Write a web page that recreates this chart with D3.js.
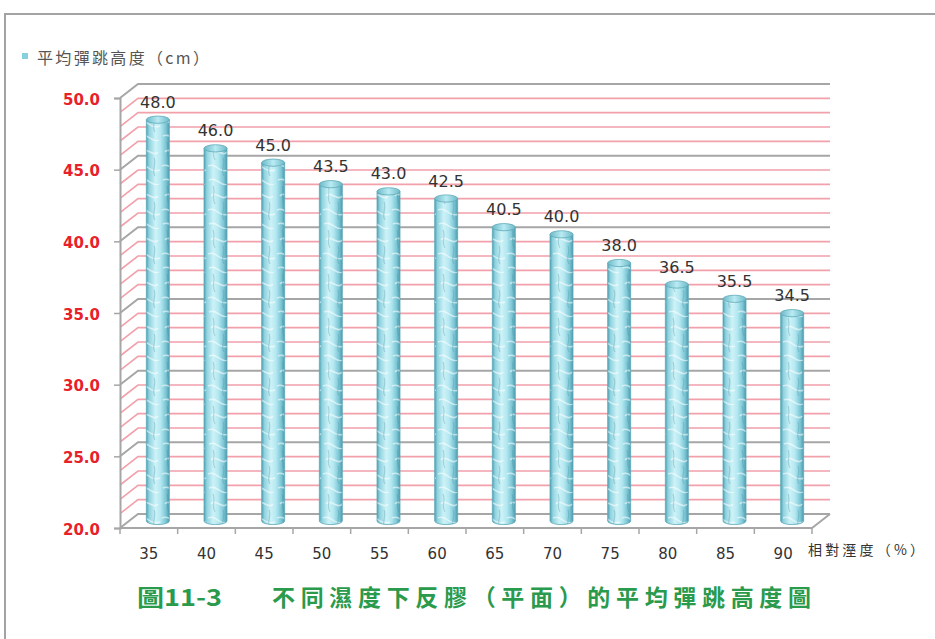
<!DOCTYPE html>
<html>
<head>
<meta charset="utf-8">
<script src="https://cdn.jsdelivr.net/npm/d3@7"></script>
<style>
  html, body { margin: 0; padding: 0; background: #fff; }
  svg { display: block; }
</style>
</head>
<body>
<svg id="chart" width="935" height="639"></svg>
<script>
// Relative humidity (%) and average bounce height (cm)
const categories = ["35", "40", "45", "50", "55", "60", "65", "70", "75", "80", "85", "90"];
const heights = [48.0, 46.0, 45.0, 43.5, 43.0, 42.5, 40.5, 40.0, 38.0, 36.5, 35.5, 34.5];
const yTicks = [20, 25, 30, 35, 40, 45, 50];
const seriesName = "平均彈跳高度(cm)";
const xTitle = "相對溼度(%)";
const figNumber = "圖11-3";
const figTitle = "不同濕度下反膠(平面)的平均彈跳高度圖";

const svg = d3.select("#chart");
const defs = svg.append("defs");

// Cylinder body shading
const bodyGrad = defs.append("linearGradient").attr("id", "cyl").attr("x1", 0).attr("x2", 1).attr("y1", 0).attr("y2", 0);
[[0, "#4f9fb0"], [0.12, "#8fd2df"], [0.4, "#cdf2f7"], [0.62, "#b4e8f1"], [0.85, "#7cc6d5"], [1, "#4d9aab"]]
  .forEach(([o, c]) => bodyGrad.append("stop").attr("offset", o).attr("stop-color", c));

// Watery texture laid over the bars
const tex = defs.append("pattern").attr("id", "water").attr("patternUnits", "userSpaceOnUse")
  .attr("width", 23).attr("height", 44);
tex.append("path").attr("d", "M2,4 C10,0 14,12 21,8 M4,20 C8,14 16,26 20,20 M1,34 C9,30 12,42 22,38")
  .attr("fill", "none").attr("stroke", "#ffffff").attr("stroke-opacity", 0.55).attr("stroke-width", 1.4);
tex.append("path").attr("d", "M6,10 C9,16 4,22 8,28 M16,26 C19,32 13,38 17,44")
  .attr("fill", "none").attr("stroke", "#3f8fa0").attr("stroke-opacity", 0.3).attr("stroke-width", 1.2);

const capGrad = defs.append("linearGradient").attr("id", "cylTop").attr("x1", 0).attr("x2", 1);
[[0, "#6db9c8"], [0.5, "#b9ebf3"], [1, "#6db9c8"]]
  .forEach(([o, c]) => capGrad.append("stop").attr("offset", o).attr("stop-color", c));

// Outer frame
svg.append("rect").attr("x", 5).attr("y", 14).attr("width", 960).attr("height", 660)
  .attr("fill", "none").attr("stroke", "#a3a3a3").attr("stroke-width", 2);

// Scales (front plane) and 3D depth offset
const x = d3.scaleBand().domain(categories).range([120, 812]).paddingInner(0).paddingOuter(0);
const y = d3.scaleLinear().domain([20, 50]).range([528, 98]);
const dx = 18, dy = -14;
const x0 = x.range()[0], x1 = x.range()[1];

// Gridlines across side wall and back wall
const gridVals = y.ticks(30);
const grid = svg.append("g").attr("fill", "none");
gridVals.forEach(v => {
  const major = yTicks.includes(v);
  grid.append("path")
    .attr("d", `M${x0},${y(v)} L${x0 + dx},${y(v) + dy} L${x1 + dx},${y(v) + dy}`)
    .attr("stroke", major ? "#a6a6a6" : "#f2a0aa")
    .attr("stroke-width", major ? 2 : 1.6);
});

// Floor edges
svg.append("path")
  .attr("d", `M${x0},${y(20)} L${x1},${y(20)} L${x1 + dx},${y(20) + dy}`)
  .attr("fill", "none").attr("stroke", "#a6a6a6").attr("stroke-width", 2);

// Value axis
const yAxis = svg.append("g").attr("transform", `translate(${x0},0)`)
  .call(d3.axisLeft(y).tickValues(yTicks).tickFormat(d3.format(".1f")).tickSize(6).tickPadding(14));
yAxis.select(".domain").attr("stroke", "#a6a6a6").attr("stroke-width", 2);
yAxis.selectAll(".tick line").attr("stroke", "#a6a6a6").attr("stroke-width", 1.5);
yAxis.selectAll(".tick text")
  .attr("fill", "#e8202a").attr("font-family", "DejaVu Sans, sans-serif")
  .attr("font-weight", "bold").attr("font-size", 15).attr("dy", "0.42em");

// Category axis: boundary ticks and labels
const bounds = categories.map(c => x(c)).concat([x1]);
svg.append("g").selectAll("line").data(bounds).join("line")
  .attr("x1", d => d).attr("x2", d => d)
  .attr("y1", y(20)).attr("y2", y(20) + 6)
  .attr("stroke", "#a6a6a6").attr("stroke-width", 1.5);
const xAxis = svg.append("g").attr("transform", `translate(0,${y(20)})`)
  .call(d3.axisBottom(x).tickSize(0).tickPadding(20));
xAxis.select(".domain").remove();
xAxis.selectAll(".tick text")
  .attr("fill", "#333").attr("font-family", "DejaVu Sans, sans-serif").attr("font-size", 15);

// Cylinders
const rx = 11.5, ry = 3.6;
const bars = svg.append("g").selectAll("g").data(categories.map((c, i) => ({ c, v: heights[i] }))).join("g");
const cx = d => x(d.c) + x.bandwidth() / 2 + dx / 2;
const yb = y(20) + dy / 2;
const yt = d => y(d.v) + dy / 2;
const cylPath = d =>
  `M${cx(d) - rx},${yt(d)} L${cx(d) - rx},${yb} A${rx},${ry} 0 0 0 ${cx(d) + rx},${yb} L${cx(d) + rx},${yt(d)} Z`;
bars.append("path").attr("d", cylPath).attr("fill", "url(#cyl)");
bars.append("path").attr("d", cylPath).attr("fill", "url(#water)");
bars.append("path").attr("d", cylPath).attr("fill", "none").attr("stroke", "#5ea9b8").attr("stroke-width", 0.8);
bars.append("ellipse")
  .attr("cx", cx).attr("cy", yt).attr("rx", rx).attr("ry", ry)
  .attr("fill", "url(#cylTop)").attr("stroke", "#5ea9b8").attr("stroke-width", 0.8);

// Value labels
bars.append("text")
  .attr("x", cx).attr("y", d => yt(d) - 12)
  .attr("text-anchor", "middle")
  .attr("font-family", "DejaVu Sans, sans-serif").attr("font-size", 16).attr("fill", "#333")
  .text(d => d3.format(".1f")(d.v));

// Legend
svg.append("rect").attr("x", 22).attr("y", 53).attr("width", 6).attr("height", 6).attr("fill", "#86d0de");
svg.append("text").attr("x", 37).attr("y", 64)
  .attr("font-family", "Noto Sans CJK TC, sans-serif").attr("font-size", 16).attr("fill", "#555")
  .attr("textLength", 172).attr("lengthAdjust", "spacing")
  .text(seriesName.replace("(", "（").replace(")", "）"));

// Category axis title
svg.append("text").attr("x", 808).attr("y", 555)
  .attr("font-family", "Noto Sans CJK TC, sans-serif").attr("font-size", 14).attr("fill", "#333")
  .attr("textLength", 116).attr("lengthAdjust", "spacing")
  .text(xTitle.replace("(", "（").replace(")", "）"));

// Figure caption
const cap = svg.append("g")
  .attr("font-family", "Noto Sans CJK TC, sans-serif").attr("font-weight", "bold")
  .attr("font-size", 23).attr("fill", "#2a9a4c");
cap.append("text").attr("x", 137).attr("y", 606)
  .attr("textLength", 85).attr("lengthAdjust", "spacingAndGlyphs").text(figNumber);
cap.append("text").attr("x", 272).attr("y", 606)
  .attr("textLength", 539).attr("lengthAdjust", "spacing")
  .text(figTitle.replace("(", "（").replace(")", "）"));
</script>
</body>
</html>
